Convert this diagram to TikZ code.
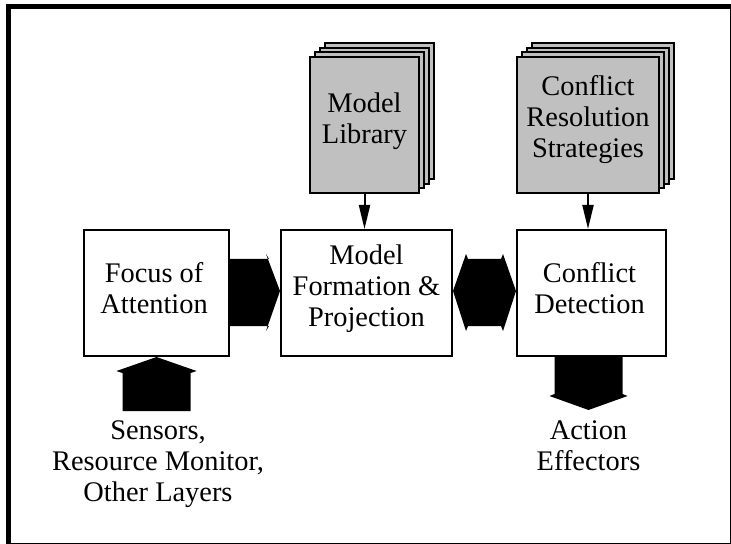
\documentclass[tikz,border=0pt]{standalone}
\usepackage{fontspec}
\setmainfont{Liberation Serif}
\usetikzlibrary{calc,shadows,arrows.meta}
\definecolor{sheetgray}{RGB}{192,192,192}

\begin{document}
\begin{tikzpicture}[x=0.5pt,y=-0.5pt,
    box/.style={draw,line width=1pt,fill=white},
    sheaf/.style={draw,line width=1pt,fill=sheetgray,
        copy shadow={shadow xshift=7.5pt,shadow yshift=6.75pt,fill=sheetgray,draw=black,line width=1pt},
        copy shadow={shadow xshift=5pt,shadow yshift=4.5pt,fill=sheetgray,draw=black,line width=1pt},
        copy shadow={shadow xshift=2.5pt,shadow yshift=2.25pt,fill=sheetgray,draw=black,line width=1pt}},
    words/.style={align=center,inner sep=0pt,font={\fontsize{14.2pt}{15.5pt}\selectfont}},
    >={Triangle[length=12pt,width=5.5pt]}]
\useasboundingbox (0,0) rectangle (731,544);
\draw[line width=2.5pt] (8.5,544) -- (8.5,6.5) -- (731,6.5);
\draw[line width=0.75pt] (730.5,6.5) -- (730.5,543.5) -- (8.5,543.5);
\node[box,minimum width=72.5pt,minimum height=63pt] (foa) at (156.5,293) {};
\node[box,minimum width=85.5pt,minimum height=63pt] (mfp) at (366.5,293) {};
\node[box,minimum width=74.5pt,minimum height=63pt] (cd) at (591.5,293) {};
\node[sheaf,minimum width=54.5pt,minimum height=68pt] (lib) at (364.5,125) {};
\node[sheaf,minimum width=71pt,minimum height=68pt] (crs) at (588,125) {};
\node[words] (foa-t) at ([xshift=-1.2pt,yshift=2.2pt]foa.center) {Focus of\\Attention};
\node[words] (mfp-t) at ([yshift=2.4pt]mfp.center) {Model\\Formation \&\\Projection};
\node[words] (cd-t) at ([xshift=-1pt,yshift=2.2pt]cd.center) {Conflict\\Detection};
\node[words] (lib-t) at ([yshift=1.7pt]lib.center) {Model\\Library};
\node[words] (crs-t) at ([yshift=2.9pt]crs.center) {Conflict\\Resolution\\Strategies};
\node[words,anchor=north] (sens) at (158,420) {Sensors,\\Resource Monitor,\\Other Layers};
\node[words,anchor=north] (act) at (588.5,420) {Action\\Effectors};
\draw[->,line width=1pt] (lib.south) -- (lib.south |- mfp.north);
\draw[->,line width=1pt] (crs.south) -- (crs.south |- cd.north);
%\fill (foa.east) -- (mfp.west);
\fill ($(foa.east)+(0,-34)$) -- ($(mfp.west)+(-11,-34)$) -- ($(mfp.west)+(-14,-39)$) -- ($(mfp.west)+(0,-2)$)
    -- ($(mfp.west)+(-14,38)$) -- ($(mfp.west)+(-11,33)$) -- ($(foa.east)+(0,33)$) -- cycle;
\fill ($(mfp.east)+(0,-2)$) -- ($(mfp.east)+(13,-39)$) -- ($(mfp.east)+(15,-34)$) -- ($(cd.west)+(-15,-34)$)
    -- ($(cd.west)+(-13,-39)$) -- ($(cd.west)+(0,-2)$) -- ($(cd.west)+(-13,38)$) -- ($(cd.west)+(-15,33)$)
    -- ($(mfp.east)+(15,33)$) -- ($(mfp.east)+(13,38)$) -- cycle;
\fill (foa.south) -- ($(foa.south)+(-40,14)$) -- ($(foa.south)+(-34,16)$) -- ($(foa.south |- sens.north)+(-34,-9)$)
    -- ($(foa.south |- sens.north)+(34,-9)$) -- ($(foa.south)+(34,16)$) -- ($(foa.south)+(40,14)$) -- cycle;
\fill ($(act.north |- cd.south)+(-34,0)$) -- ($(act.north)+(-34,-26)$) -- ($(act.north)+(-39,-24)$) -- ($(act.north)+(0,-10)$)
    -- ($(act.north)+(39,-24)$) -- ($(act.north)+(34,-26)$) -- ($(act.north |- cd.south)+(34,0)$) -- cycle;
\end{tikzpicture}
\end{document}
